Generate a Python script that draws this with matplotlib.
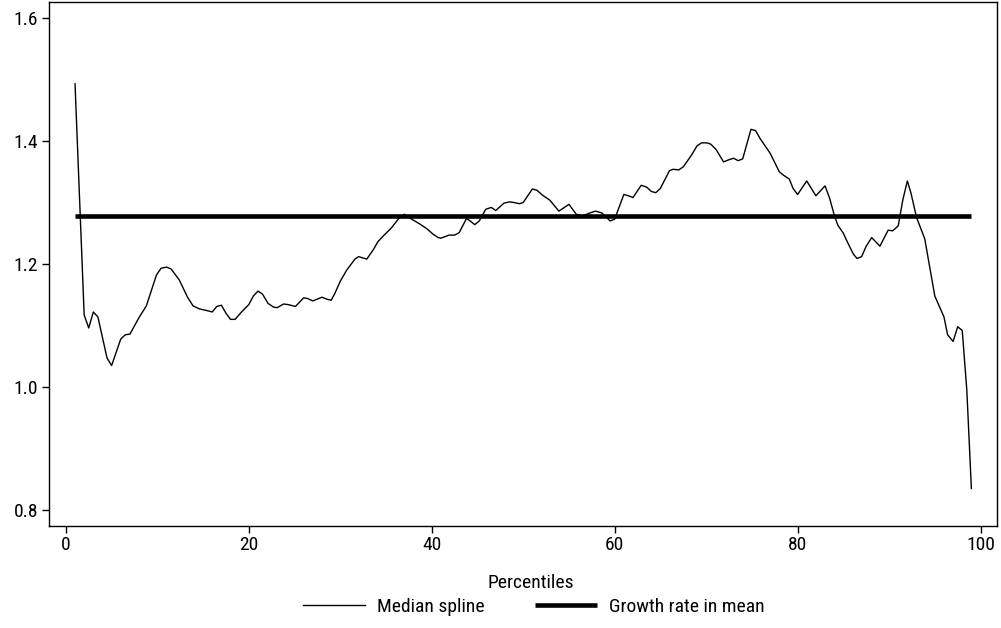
import matplotlib
matplotlib.use("Agg")
import matplotlib.pyplot as plt
from matplotlib.lines import Line2D
from matplotlib import font_manager

available = {f.name for f in font_manager.fontManager.ttflist}
families = [f for f in ['Roboto Condensed', 'Liberation Sans Narrow', 'DejaVu Sans'] if f in available]
plt.rcParams['font.family'] = families

percentiles = [1.0, 2.0, 2.5, 3.0, 3.5, 4.5, 5.0, 6.0, 6.5, 7.0, 8.0, 8.8, 9.9, 10.4, 11.0, 11.5,
               12.4, 13.3, 13.9, 14.6, 15.5, 16.0, 16.5, 17.0, 17.5, 18.0, 18.5, 19.2, 20.0, 20.5,
               21.0, 21.5, 22.1, 22.7, 23.1, 23.8, 24.3, 25.1, 26.0, 26.4, 27.0, 28.0, 28.5, 29.0,
               29.4, 30.0, 30.7, 31.6, 32.0, 32.9, 33.6, 34.1, 34.6, 35.6, 36.4, 37.0, 37.8, 38.7,
               39.5, 40.1, 40.7, 41.0, 41.9, 42.5, 43.0, 43.8, 44.2, 44.7, 45.2, 45.9, 46.5, 47.0,
               47.9, 48.5, 49.0, 49.6, 50.0, 51.0, 51.5, 52.1, 52.9, 53.9, 54.5, 55.0, 55.8, 56.4,
               57.3, 57.9, 58.6, 59.5, 60.0, 60.6, 61.0, 61.5, 62.0, 62.9, 63.5, 64.0, 64.5, 65.0,
               66.0, 66.4, 67.0, 67.5, 68.4, 69.0, 69.5, 70.1, 70.5, 71.1, 71.9, 72.4, 73.0, 73.5,
               74.0, 74.9, 75.4, 75.9, 77.0, 78.0, 78.4, 79.1, 79.5, 80.0, 81.0, 82.0, 83.0, 83.5,
               84.0, 84.4, 85.0, 85.5, 86.1, 86.5, 87.0, 87.5, 88.1, 89.0, 89.9, 90.4, 91.0, 91.5,
               92.0, 92.4, 93.0, 93.9, 95.0, 96.0, 96.4, 97.0, 97.5, 98.0, 98.5, 99.0]

median_spline = [1.493, 1.117, 1.096, 1.122, 1.114, 1.047, 1.035, 1.078, 1.085, 1.086, 1.113, 1.132,
                 1.182, 1.193, 1.195, 1.192, 1.174, 1.146, 1.132, 1.127, 1.124, 1.122, 1.131, 1.133,
                 1.120, 1.110, 1.110, 1.122, 1.134, 1.148, 1.156, 1.151, 1.136, 1.130, 1.129, 1.135,
                 1.134, 1.131, 1.145, 1.144, 1.140, 1.146, 1.143, 1.141, 1.152, 1.172, 1.190, 1.208,
                 1.212, 1.208, 1.223, 1.236, 1.244, 1.259, 1.274, 1.281, 1.273, 1.265, 1.257, 1.249,
                 1.243, 1.242, 1.247, 1.247, 1.251, 1.274, 1.270, 1.264, 1.270, 1.289, 1.292, 1.287,
                 1.299, 1.301, 1.300, 1.298, 1.300, 1.322, 1.320, 1.312, 1.304, 1.286, 1.292, 1.297,
                 1.281, 1.278, 1.283, 1.286, 1.283, 1.270, 1.273, 1.297, 1.313, 1.311, 1.308, 1.328,
                 1.325, 1.318, 1.316, 1.323, 1.352, 1.354, 1.353, 1.358, 1.377, 1.392, 1.397, 1.397,
                 1.395, 1.386, 1.366, 1.369, 1.372, 1.368, 1.371, 1.419, 1.417, 1.404, 1.380, 1.350,
                 1.345, 1.338, 1.323, 1.313, 1.335, 1.311, 1.327, 1.307, 1.280, 1.263, 1.250, 1.234,
                 1.216, 1.209, 1.212, 1.229, 1.243, 1.229, 1.255, 1.254, 1.262, 1.304, 1.335, 1.315,
                 1.276, 1.241, 1.148, 1.114, 1.085, 1.074, 1.098, 1.092, 0.995, 0.835]

growth_rate_in_mean = 1.278
mean_range = [1.0, 99.0]

x_ticks = [0, 20, 40, 60, 80, 100]
y_ticks = [0.8, 1.0, 1.2, 1.4, 1.6]
x_label = "Percentiles"
legend_labels = ["Median spline", "Growth rate in mean"]

fig = plt.figure(figsize=(10.01, 6.28), dpi=100)
ax = fig.add_axes([0.049, 0.1624, 0.947, 0.8344])

ax.plot(percentiles, median_spline, color='black', lw=1.0)
ax.plot(mean_range, [growth_rate_in_mean, growth_rate_in_mean], color='black', lw=3.3,
        solid_capstyle='butt')

ax.set_xlim(-1.84, 101.8)
ax.set_ylim(0.774, 1.626)
ax.set_xticks(x_ticks)
ax.set_xticklabels([str(t) for t in x_ticks])
ax.set_yticks(y_ticks)
ax.set_yticklabels([f"{t:.1f}" for t in y_ticks])
ax.tick_params(axis='both', labelsize=14, length=5, width=1, color='black')
ax.tick_params(axis='x', pad=2)
ax.tick_params(axis='y', pad=3)
for s in ax.spines.values():
    s.set_linewidth(1.0)
    s.set_color('black')

ax.set_xlabel(x_label, fontsize=14)
ax.xaxis.set_label_coords((531 - 49) / 948, -0.092)

handles = [Line2D([0], [0], color='black', lw=1.0),
           Line2D([0], [0], color='black', lw=3.3, solid_capstyle='butt')]
fig.legend(handles, legend_labels, loc='center', bbox_to_anchor=(0.533, 0.034), ncol=2,
           frameon=False, fontsize=14, handlelength=3.2, columnspacing=2.6, handletextpad=0.6)

fig.savefig("out.png", dpi=100)
